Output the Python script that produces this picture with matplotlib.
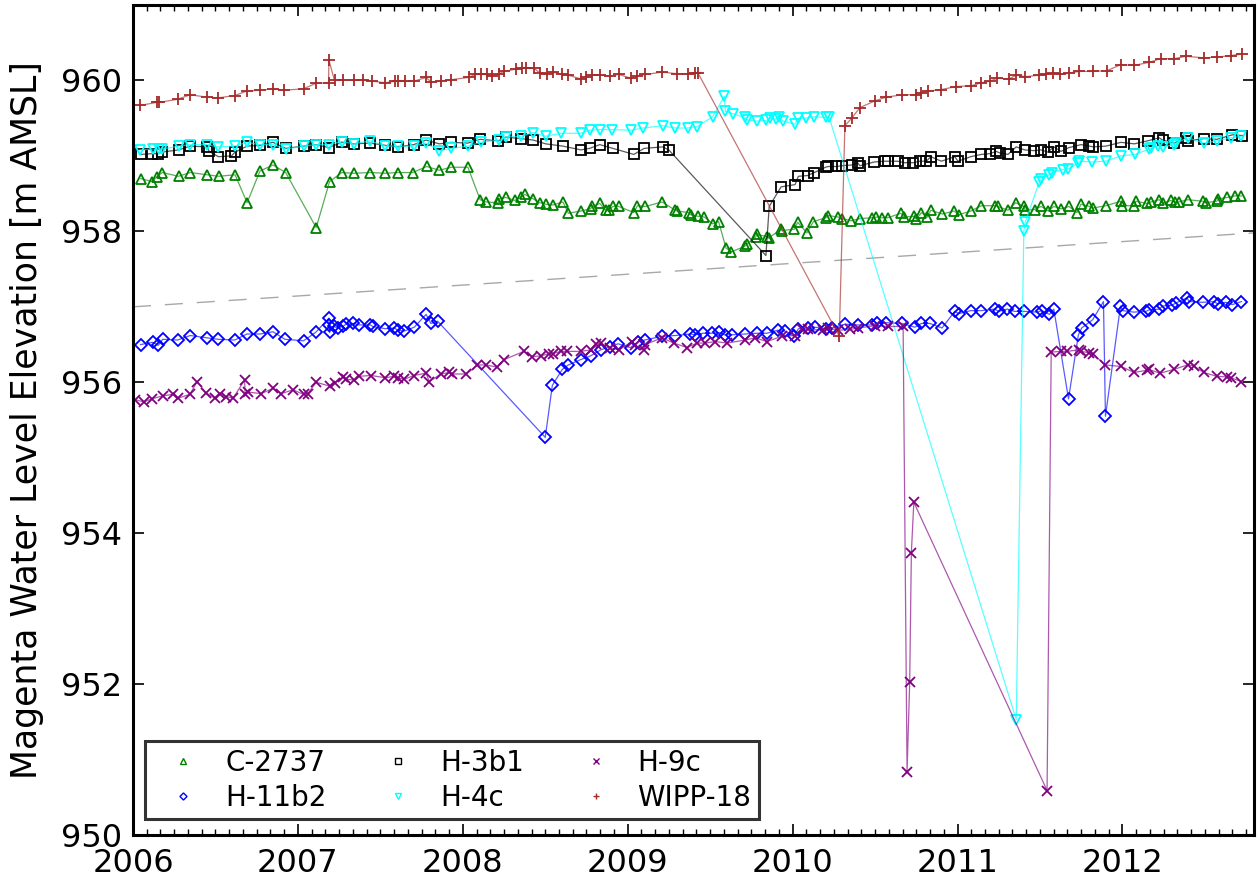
import matplotlib
matplotlib.use('Agg')
import matplotlib.pyplot as plt
from matplotlib.lines import Line2D
from matplotlib.ticker import MultipleLocator

plt.rcParams['font.family'] = ['DejaVu Sans']

# decimal year / elevation [m AMSL]
c2737_t = [2006.046, 2006.117, 2006.143, 2006.177, 2006.276, 2006.347, 2006.448, 2006.52, 2006.619, 2006.692,
           2006.77, 2006.849, 2006.926, 2007.111, 2007.192, 2007.266, 2007.339, 2007.438, 2007.531, 2007.607,
           2007.696, 2007.781, 2007.857, 2007.93, 2008.031, 2008.105, 2008.14, 2008.216, 2008.22, 2008.261,
           2008.315, 2008.351, 2008.377, 2008.428, 2008.466, 2008.503, 2008.547, 2008.607, 2008.64, 2008.716,
           2008.775, 2008.785, 2008.831, 2008.866, 2008.886, 2008.91, 2008.946, 2009.037, 2009.059, 2009.107,
           2009.208, 2009.289, 2009.299, 2009.37, 2009.382, 2009.426, 2009.465, 2009.515, 2009.551, 2009.596,
           2009.628, 2009.709, 2009.721, 2009.777, 2009.783, 2009.846, 2009.854, 2009.93, 2009.934, 2010.011,
           2010.031, 2010.087, 2010.126, 2010.2, 2010.216, 2010.277, 2010.301, 2010.354, 2010.408, 2010.479,
           2010.503, 2010.539, 2010.576, 2010.656, 2010.676, 2010.735, 2010.751, 2010.781, 2010.817, 2010.838,
           2010.908, 2010.979, 2011.007, 2011.08, 2011.144, 2011.225, 2011.245, 2011.306, 2011.352, 2011.402,
           2011.41, 2011.467, 2011.507, 2011.551, 2011.584, 2011.628, 2011.675, 2011.725, 2011.749, 2011.8,
           2011.82, 2011.9, 2011.991, 2011.995, 2012.072, 2012.082, 2012.149, 2012.173, 2012.223, 2012.244,
           2012.294, 2012.32, 2012.341, 2012.395, 2012.486, 2012.506, 2012.573, 2012.581, 2012.637, 2012.682,
           2012.722]
c2737_h = [958.70, 958.66, 958.72, 958.78, 958.73, 958.78, 958.75, 958.73, 958.75, 958.38,
           958.80, 958.88, 958.78, 958.05, 958.66, 958.78, 958.77, 958.78, 958.77, 958.78,
           958.78, 958.86, 958.81, 958.85, 958.85, 958.42, 958.39, 958.38, 958.43, 958.45,
           958.41, 958.45, 958.49, 958.43, 958.38, 958.36, 958.35, 958.39, 958.24, 958.27,
           958.30, 958.33, 958.37, 958.28, 958.29, 958.33, 958.33, 958.25, 958.34, 958.33,
           958.39, 958.28, 958.27, 958.25, 958.22, 958.20, 958.19, 958.10, 958.13, 957.78,
           957.73, 957.80, 957.83, 957.93, 957.96, 957.93, 957.91, 958.03, 958.01, 958.03,
           958.12, 957.98, 958.13, 958.18, 958.21, 958.19, 958.17, 958.14, 958.17, 958.18,
           958.19, 958.18, 958.18, 958.24, 958.19, 958.20, 958.16, 958.25, 958.19, 958.28,
           958.23, 958.27, 958.22, 958.27, 958.34, 958.34, 958.33, 958.28, 958.38, 958.33,
           958.28, 958.29, 958.33, 958.27, 958.33, 958.30, 958.33, 958.25, 958.36, 958.33,
           958.31, 958.34, 958.40, 958.34, 958.34, 958.40, 958.37, 958.39, 958.42, 958.37,
           958.41, 958.39, 958.39, 958.42, 958.40, 958.38, 958.40, 958.43, 958.45, 958.47,
           958.47]

h11b2_t = [2006.046, 2006.119, 2006.153, 2006.18, 2006.27, 2006.347, 2006.446, 2006.516, 2006.617, 2006.69,
           2006.772, 2006.849, 2006.921, 2007.034, 2007.107, 2007.188, 2007.19, 2007.192, 2007.216, 2007.242,
           2007.272, 2007.292, 2007.337, 2007.373, 2007.44, 2007.454, 2007.531, 2007.585, 2007.605, 2007.645,
           2007.706, 2007.777, 2007.807, 2007.847, 2008.5, 2008.543, 2008.603, 2008.64, 2008.714, 2008.775,
           2008.836, 2008.89, 2008.942, 2009.017, 2009.063, 2009.103, 2009.208, 2009.289, 2009.38, 2009.41,
           2009.455, 2009.51, 2009.551, 2009.587, 2009.632, 2009.713, 2009.783, 2009.844, 2009.91, 2009.951,
           2010.011, 2010.035, 2010.091, 2010.136, 2010.2, 2010.236, 2010.317, 2010.394, 2010.479, 2010.509,
           2010.569, 2010.664, 2010.741, 2010.781, 2010.832, 2010.906, 2010.983, 2011.007, 2011.08, 2011.144,
           2011.225, 2011.249, 2011.302, 2011.346, 2011.402, 2011.483, 2011.511, 2011.557, 2011.584, 2011.673,
           2011.733, 2011.753, 2011.82, 2011.885, 2011.897, 2011.988, 2012.002, 2012.068, 2012.143, 2012.163,
           2012.223, 2012.244, 2012.298, 2012.324, 2012.391, 2012.405, 2012.486, 2012.556, 2012.577, 2012.627,
           2012.667, 2012.722]
h11b2_h = [956.50, 956.53, 956.49, 956.57, 956.56, 956.62, 956.59, 956.57, 956.56, 956.64,
           956.64, 956.67, 956.57, 956.55, 956.66, 956.85, 956.76, 956.66, 956.74, 956.72,
           956.74, 956.77, 956.78, 956.76, 956.76, 956.74, 956.71, 956.72, 956.69, 956.68,
           956.73, 956.90, 956.78, 956.81, 955.27, 955.96, 956.17, 956.23, 956.30, 956.35,
           956.43, 956.47, 956.51, 956.46, 956.54, 956.56, 956.61, 956.62, 956.64, 956.63,
           956.65, 956.65, 956.66, 956.63, 956.63, 956.64, 956.65, 956.65, 956.69, 956.68,
           956.61, 956.71, 956.72, 956.73, 956.71, 956.72, 956.77, 956.76, 956.76, 956.78,
           956.79, 956.78, 956.73, 956.78, 956.78, 956.72, 956.94, 956.91, 956.95, 956.95,
           956.97, 956.94, 956.97, 956.94, 956.94, 956.93, 956.95, 956.90, 956.97, 955.78,
           956.63, 956.72, 956.83, 957.07, 955.55, 957.01, 956.95, 956.93, 956.94, 956.96,
           956.97, 957.01, 957.02, 957.05, 957.12, 957.07, 957.06, 957.07, 957.04, 957.06,
           957.03, 957.07]

h3b1_t = [2006.046, 2006.117, 2006.153, 2006.173, 2006.278, 2006.347, 2006.45, 2006.462, 2006.518, 2006.597,
          2006.619, 2006.692, 2006.77, 2006.849, 2006.926, 2007.034, 2007.111, 2007.186, 2007.266, 2007.339,
          2007.438, 2007.531, 2007.607, 2007.702, 2007.777, 2007.857, 2007.93, 2008.031, 2008.105, 2008.216,
          2008.261, 2008.351, 2008.428, 2008.503, 2008.607, 2008.716, 2008.769, 2008.831, 2008.91, 2009.037,
          2009.1, 2009.212, 2009.249, 2009.838, 2009.858, 2009.93, 2010.015, 2010.035, 2010.091, 2010.131,
          2010.2, 2010.216, 2010.266, 2010.301, 2010.358, 2010.394, 2010.408, 2010.495, 2010.559, 2010.576,
          2010.636, 2010.68, 2010.731, 2010.771, 2010.811, 2010.838, 2010.902, 2010.983, 2011.003, 2011.08,
          2011.144, 2011.195, 2011.235, 2011.255, 2011.306, 2011.356, 2011.407, 2011.463, 2011.507, 2011.548,
          2011.584, 2011.628, 2011.675, 2011.749, 2011.8, 2011.824, 2011.9, 2011.991, 2012.072, 2012.153,
          2012.223, 2012.244, 2012.314, 2012.384, 2012.395, 2012.495, 2012.572, 2012.667, 2012.727]
h3b1_h = [959.02, 959.03, 959.03, 959.05, 959.08, 959.13, 959.12, 959.06, 958.99, 959.00,
          959.05, 959.13, 959.14, 959.18, 959.10, 959.13, 959.15, 959.11, 959.18, 959.16,
          959.17, 959.14, 959.12, 959.15, 959.21, 959.16, 959.18, 959.17, 959.22, 959.20,
          959.25, 959.23, 959.21, 959.16, 959.13, 959.08, 959.10, 959.15, 959.10, 959.02,
          959.10, 959.12, 959.08, 957.68, 958.33, 958.59, 958.62, 958.73, 958.74, 958.78,
          958.85, 958.86, 958.86, 958.87, 958.88, 958.91, 958.87, 958.92, 958.93, 958.93,
          958.93, 958.91, 958.91, 958.93, 958.93, 958.99, 958.93, 958.99, 958.93, 958.99,
          959.02, 959.03, 959.06, 959.04, 959.02, 959.12, 959.08, 959.07, 959.08, 959.05,
          959.12, 959.06, 959.11, 959.15, 959.13, 959.12, 959.13, 959.18, 959.16, 959.20,
          959.24, 959.21, 959.17, 959.24, 959.20, 959.23, 959.22, 959.28, 959.27]

h4c_t = [2006.042, 2006.119, 2006.159, 2006.177, 2006.276, 2006.347, 2006.446, 2006.516, 2006.617, 2006.69,
         2006.768, 2006.849, 2006.926, 2007.034, 2007.111, 2007.186, 2007.266, 2007.339, 2007.438, 2007.531,
         2007.607, 2007.702, 2007.777, 2007.857, 2007.93, 2008.031, 2008.11, 2008.22, 2008.261, 2008.351,
         2008.428, 2008.503, 2008.593, 2008.714, 2008.769, 2008.829, 2008.902, 2009.019, 2009.095, 2009.212,
         2009.285, 2009.364, 2009.422, 2009.515, 2009.586, 2009.592, 2009.636, 2009.709, 2009.723, 2009.783,
         2009.84, 2009.864, 2009.898, 2009.918, 2009.944, 2010.015, 2010.035, 2010.081, 2010.13, 2010.2,
         2010.22, 2011.356, 2011.402, 2011.41, 2011.497, 2011.507, 2011.557, 2011.571, 2011.638, 2011.672,
         2011.729, 2011.739, 2011.814, 2011.9, 2011.991, 2012.076, 2012.163, 2012.173, 2012.213, 2012.244,
         2012.314, 2012.324, 2012.395, 2012.495, 2012.572, 2012.657, 2012.722]
h4c_h = [959.08, 959.09, 959.09, 959.09, 959.13, 959.15, 959.15, 959.12, 959.13, 959.18,
         959.15, 959.15, 959.09, 959.13, 959.15, 959.15, 959.19, 959.16, 959.20, 959.13,
         959.13, 959.13, 959.17, 959.07, 959.10, 959.13, 959.18, 959.21, 959.25, 959.26,
         959.31, 959.26, 959.30, 959.30, 959.34, 959.35, 959.35, 959.34, 959.37, 959.40,
         959.37, 959.37, 959.39, 959.52, 959.79, 959.59, 959.56, 959.51, 959.48, 959.46,
         959.47, 959.50, 959.49, 959.51, 959.46, 959.42, 959.50, 959.50, 959.52, 959.51,
         959.52, 951.53, 958.00, 958.12, 958.66, 958.70, 958.75, 958.78, 958.82, 958.83,
         958.90, 958.93, 958.92, 958.93, 959.00, 959.02, 959.09, 959.11, 959.13, 959.12,
         959.15, 959.17, 959.24, 959.17, 959.20, 959.24, 959.26]

h9c_t = [2006.012, 2006.067, 2006.113, 2006.18, 2006.24, 2006.274, 2006.345, 2006.389, 2006.442, 2006.496,
         2006.526, 2006.567, 2006.607, 2006.677, 2006.68, 2006.698, 2006.778, 2006.849, 2006.899, 2006.97,
         2007.034, 2007.06, 2007.111, 2007.192, 2007.222, 2007.272, 2007.292, 2007.343, 2007.373, 2007.444,
         2007.531, 2007.585, 2007.605, 2007.645, 2007.702, 2007.777, 2007.797, 2007.867, 2007.918, 2007.934,
         2008.022, 2008.089, 2008.14, 2008.21, 2008.25, 2008.371, 2008.422, 2008.472, 2008.523, 2008.547,
         2008.593, 2008.634, 2008.714, 2008.775, 2008.805, 2008.836, 2008.89, 2008.946, 2009.027, 2009.047,
         2009.097, 2009.107, 2009.208, 2009.279, 2009.36, 2009.42, 2009.471, 2009.531, 2009.602, 2009.713,
         2009.773, 2009.844, 2009.935, 2010.015, 2010.055, 2010.095, 2010.186, 2010.216, 2010.277, 2010.347,
         2010.398, 2010.499, 2010.58, 2010.67, 2010.694, 2010.71, 2010.72, 2010.735, 2011.543, 2011.568,
         2011.628, 2011.665, 2011.735, 2011.749, 2011.8, 2011.82, 2011.894, 2011.991, 2012.072, 2012.149,
         2012.163, 2012.228, 2012.31, 2012.395, 2012.431, 2012.492, 2012.572, 2012.637, 2012.657, 2012.722]
h9c_h = [955.77, 955.74, 955.78, 955.82, 955.84, 955.79, 955.84, 956.01, 955.86, 955.79,
         955.84, 955.81, 955.79, 956.03, 955.85, 955.87, 955.85, 955.92, 955.85, 955.90,
         955.84, 955.85, 956.00, 955.95, 955.99, 956.07, 956.04, 956.03, 956.08, 956.09,
         956.06, 956.08, 956.06, 956.04, 956.09, 956.12, 956.01, 956.11, 956.13, 956.11,
         956.11, 956.23, 956.23, 956.20, 956.30, 956.41, 956.34, 956.35, 956.38, 956.38,
         956.41, 956.41, 956.41, 956.43, 956.51, 956.52, 956.46, 956.43, 956.54, 956.49,
         956.43, 956.50, 956.59, 956.52, 956.46, 956.52, 956.52, 956.54, 956.52, 956.56,
         956.59, 956.54, 956.61, 956.62, 956.70, 956.70, 956.69, 956.72, 956.69, 956.70,
         956.72, 956.75, 956.74, 956.74, 950.84, 952.03, 953.74, 954.41, 950.59, 956.40,
         956.41, 956.41, 956.43, 956.41, 956.39, 956.38, 956.23, 956.21, 956.13, 956.16,
         956.17, 956.12, 956.17, 956.23, 956.22, 956.13, 956.08, 956.07, 956.06, 956.01]

wipp18_t = [2006.042, 2006.147, 2006.159, 2006.27, 2006.347, 2006.446, 2006.518, 2006.617, 2006.69, 2006.768,
            2006.849, 2006.915, 2007.034, 2007.107, 2007.186, 2007.188, 2007.222, 2007.272, 2007.343, 2007.393,
            2007.45, 2007.531, 2007.591, 2007.605, 2007.65, 2007.702, 2007.777, 2007.807, 2007.867, 2007.928,
            2008.035, 2008.075, 2008.11, 2008.146, 2008.18, 2008.22, 2008.25, 2008.321, 2008.361, 2008.381,
            2008.432, 2008.468, 2008.512, 2008.547, 2008.6, 2008.64, 2008.716, 2008.745, 2008.781, 2008.831,
            2008.894, 2008.946, 2009.019, 2009.059, 2009.107, 2009.208, 2009.299, 2009.364, 2009.406, 2009.426,
            2010.283, 2010.317, 2010.358, 2010.408, 2010.499, 2010.569, 2010.666, 2010.747, 2010.777, 2010.821,
            2010.902, 2010.993, 2011.084, 2011.144, 2011.195, 2011.241, 2011.31, 2011.356, 2011.41, 2011.497,
            2011.537, 2011.578, 2011.624, 2011.679, 2011.739, 2011.82, 2011.906, 2011.991, 2012.072, 2012.163,
            2012.233, 2012.314, 2012.384, 2012.495, 2012.576, 2012.656, 2012.727]
wipp18_h = [959.67, 959.71, 959.71, 959.75, 959.81, 959.78, 959.77, 959.80, 959.86, 959.87,
            959.89, 959.87, 959.89, 959.96, 959.97, 960.27, 960.00, 960.01, 960.00, 960.01,
            959.99, 959.97, 959.99, 959.99, 959.99, 959.99, 960.04, 959.98, 959.99, 960.01,
            960.04, 960.08, 960.08, 960.08, 960.06, 960.09, 960.12, 960.15, 960.16, 960.16,
            960.16, 960.10, 960.09, 960.11, 960.08, 960.07, 960.02, 960.05, 960.07, 960.07,
            960.06, 960.08, 960.03, 960.06, 960.08, 960.11, 960.09, 960.09, 960.10, 960.10,
            956.61, 959.40, 959.50, 959.64, 959.73, 959.78, 959.81, 959.81, 959.83, 959.86,
            959.88, 959.92, 959.93, 959.97, 959.99, 960.03, 960.02, 960.07, 960.05, 960.07,
            960.08, 960.10, 960.08, 960.10, 960.12, 960.12, 960.13, 960.21, 960.20, 960.24,
            960.29, 960.29, 960.32, 960.30, 960.31, 960.33, 960.35]

# gray dashed reference line
ref_t = [2006.0, 2012.8]
ref_h = [957.00, 957.98]

wells = [
    ('C-2737', c2737_t, c2737_h, 'green', '^', 7),
    ('H-11b2', h11b2_t, h11b2_h, 'blue', 'D', 6),
    ('H-3b1', h3b1_t, h3b1_h, 'black', 's', 7),
    ('H-4c', h4c_t, h4c_h, 'cyan', 'v', 7),
    ('H-9c', h9c_t, h9c_h, 'purple', 'x', 7),
    ('WIPP-18', wipp18_t, wipp18_h, 'brown', '+', 8),
]

fig = plt.figure(figsize=(12.57, 8.8), dpi=100)
ax = fig.add_axes([0.1058, 0.0511, 0.8921, 0.9432])

ax.plot(ref_t, ref_h, color='#a8a8a8', lw=1.0, dashes=(13, 10))

handles = []
for name, t, h, col, mk, ms in wells:
    ax.plot(t, h, color=col, lw=0.9, alpha=0.65)
    ax.plot(t, h, ls='none', marker=mk, ms=ms, mfc='none', mec=col, mew=1.3)
    handles.append(Line2D([], [], ls='none', marker=mk, ms=ms * 0.6, mfc='none', mec=col, mew=1.0, label=name))

ax.set_xlim(2006, 2012.8)
ax.set_ylim(950, 961)
ax.xaxis.set_major_locator(MultipleLocator(1))
ax.xaxis.set_minor_locator(MultipleLocator(1 / 12))
ax.yaxis.set_major_locator(MultipleLocator(2))
ax.xaxis.set_major_formatter(matplotlib.ticker.FormatStrFormatter('%d'))
ax.tick_params(which='both', direction='in', top=True, right=True, labelsize=23)
ax.tick_params(axis='x', pad=9)
ax.tick_params(axis='y', pad=8)
ax.tick_params(which='major', length=8, width=1.2)
ax.tick_params(which='minor', length=4, width=1.0)
for s in ax.spines.values():
    s.set_linewidth(2.2)

ax.set_ylabel('Magenta Water Level Elevation [m AMSL]', fontsize=25, labelpad=12)

leg = ax.legend(handles=handles, ncol=3, loc='lower left', bbox_to_anchor=(0.011, 0.019),
                fontsize=20, frameon=True, fancybox=False, handlelength=2.2, handletextpad=0.41,
                columnspacing=1.48, borderpad=0.26, labelspacing=0.27, borderaxespad=0)
leg.get_frame().set_edgecolor('black')
leg.get_frame().set_linewidth(2.2)

fig.savefig('out.png', dpi=100)
